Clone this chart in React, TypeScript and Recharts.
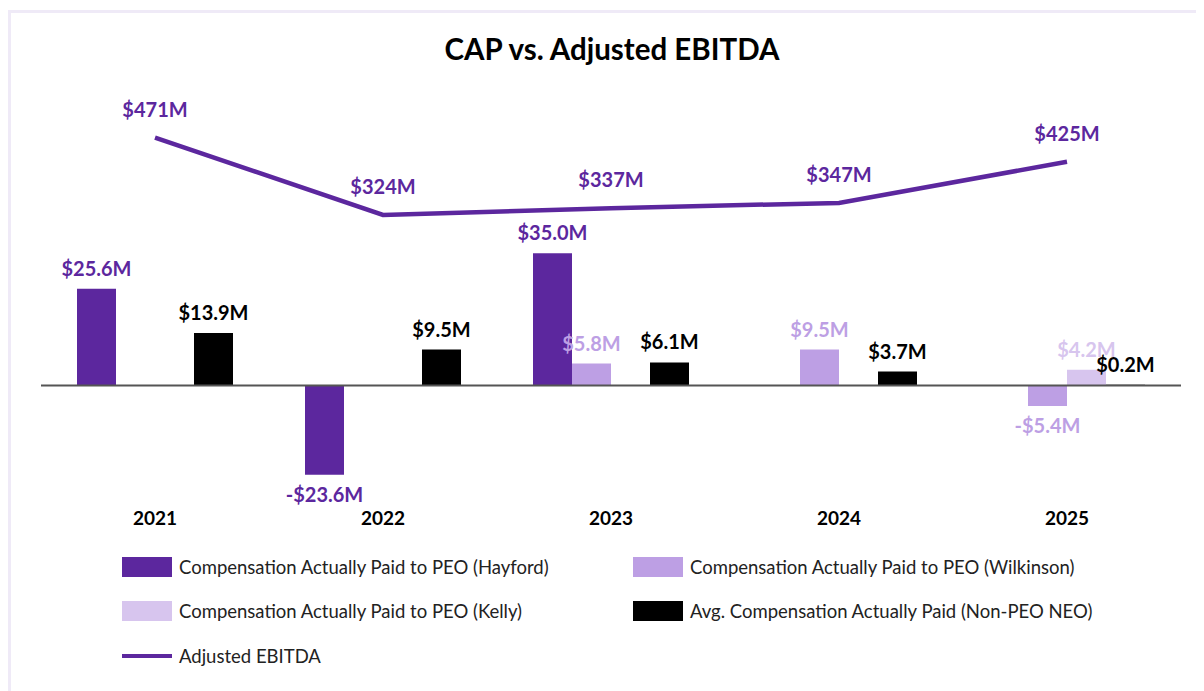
import React from "react";
import { ComposedChart, Bar, Line, XAxis, YAxis, ReferenceLine, LabelList } from "recharts";

const years = ["2021", "2022", "2023", "2024", "2025"];
const hayford = [25.6, -23.6, 35.0, null, null];
const wilkinson = [null, null, 5.8, 9.5, -5.4];
const kelly = [null, null, null, null, 4.2];
const nonPeo = [13.9, 9.5, 6.1, 3.7, 0.2];
const ebitda = [471, 324, 337, 347, 425];

const COLORS = {
  hayford: "#5c279e",
  wilkinson: "#bd9fe4",
  kelly: "#d7c5ee",
  nonPeo: "#000000",
  ebitda: "#5c279e",
};

const SERIES = [
  { key: "hayford", name: "Compensation Actually Paid to PEO (Hayford)", type: "bar" },
  { key: "wilkinson", name: "Compensation Actually Paid to PEO (Wilkinson)", type: "bar" },
  { key: "kelly", name: "Compensation Actually Paid to PEO (Kelly)", type: "bar" },
  { key: "nonPeo", name: "Avg. Compensation Actually Paid (Non-PEO NEO)", type: "bar" },
  { key: "ebitda", name: "Adjusted EBITDA", type: "line" },
];

const data = years.map((year, i) => ({
  year,
  hayford: hayford[i],
  wilkinson: wilkinson[i],
  kelly: kelly[i],
  nonPeo: nonPeo[i],
  ebitda: ebitda[i],
}));

const FONT = "Lato, 'Open Sans', sans-serif";

const fmtM = (v: number) => `${v < 0 ? "-" : ""}$${Math.abs(v).toFixed(1)}M`;

const barLabel = (color: string) => (props: any) => {
  const { x, y, width, height, value } = props;
  if (value == null) return null;
  const top = Math.min(y, y + height);
  const bottom = Math.max(y, y + height);
  const cy = value >= 0 ? top - 20 : bottom + 20;
  return (
    <text
      x={x + width / 2}
      y={cy}
      dy={7}
      textAnchor="middle"
      fill={color}
      fontFamily={FONT}
      fontWeight={700}
      fontSize={20}
    >
      {fmtM(value)}
    </text>
  );
};

const lineLabel = (props: any) => {
  const { x, y, value } = props;
  return (
    <text x={x} y={y - 28} dy={7} textAnchor="middle" fill={COLORS.ebitda} fontFamily={FONT} fontWeight={700} fontSize={20}>
      {`$${value}M`}
    </text>
  );
};

const legendPos = [
  { left: 114, top: 549 },
  { left: 625, top: 549 },
  { left: 114, top: 593 },
  { left: 625, top: 593 },
  { left: 114, top: 638 },
];

export default function App() {
  return (
    <div style={{ position: "relative", width: 1196, height: 683, fontFamily: FONT }}>
      <div
        style={{
          position: "absolute",
          left: 0,
          top: 2,
          width: 1196,
          height: 681,
          boxSizing: "border-box",
          borderTop: "3px solid #efeaf7",
          borderLeft: "3px solid #efeaf7",
        }}
      />
      <div
        style={{
          position: "absolute",
          left: 0,
          top: 23,
          width: 1208,
          textAlign: "center",
          fontSize: 29.5,
          fontWeight: 700,
          lineHeight: "36px",
          color: "#000",
        }}
      >
        CAP vs. Adjusted EBITDA
      </div>
      <div style={{ position: "absolute", left: 0, top: 0 }}>
        <ComposedChart
          width={1196}
          height={683}
          data={data}
          margin={{ top: 92, right: 23, bottom: 161, left: 33 }}
          barGap={0}
          barSize={39}
        >
          <XAxis
            dataKey="year"
            xAxisId="x"
            axisLine={false}
            tickLine={false}
            height={30}
            tickMargin={6}
            tick={{ fill: "#000", fontSize: 19, fontWeight: 700, fontFamily: FONT }}
          />
          <YAxis yAxisId="bar" hide domain={[-30.29, 75.53]} type="number" allowDataOverflow />
          <YAxis yAxisId="line" hide domain={[-217.6, 542.5]} type="number" allowDataOverflow />
          <ReferenceLine y={0} yAxisId="bar" xAxisId="x" stroke="#555" strokeWidth={2} />
          {SERIES.filter((s) => s.type === "bar").map((s) => (
            <Bar
              key={s.key}
              dataKey={s.key}
              name={s.name}
              xAxisId="x"
              yAxisId="bar"
              fill={COLORS[s.key as keyof typeof COLORS]}
              isAnimationActive={false}
            >
              <LabelList dataKey={s.key} content={barLabel(COLORS[s.key as keyof typeof COLORS])} />
            </Bar>
          ))}
          <Line
            dataKey="ebitda"
            name="Adjusted EBITDA"
            xAxisId="x"
            yAxisId="line"
            type="linear"
            stroke={COLORS.ebitda}
            strokeWidth={4.5}
            dot={false}
            activeDot={false}
            isAnimationActive={false}
          >
            <LabelList dataKey="ebitda" content={lineLabel} />
          </Line>
        </ComposedChart>
      </div>
      {SERIES.map((s, i) => (
        <div
          key={s.key}
          style={{
            position: "absolute",
            left: legendPos[i].left,
            top: legendPos[i].top,
            height: 20,
            display: "flex",
            alignItems: "center",
            whiteSpace: "nowrap",
          }}
        >
          {s.type === "bar" ? (
            <div style={{ width: 50, height: 20, background: COLORS[s.key as keyof typeof COLORS] }} />
          ) : (
            <div style={{ width: 50, height: 4, background: COLORS.ebitda }} />
          )}
          <span style={{ marginLeft: 7, fontSize: 18.5, color: "#222" }}>{s.name}</span>
        </div>
      ))}
    </div>
  );
}
